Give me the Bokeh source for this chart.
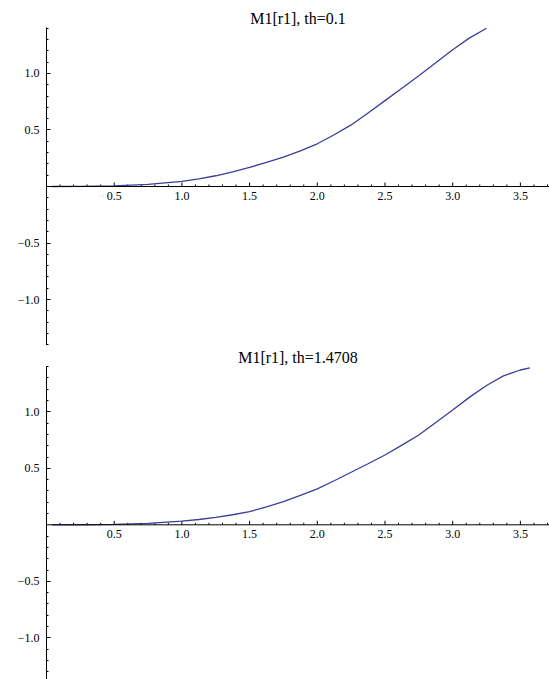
import numpy as np
from bokeh.plotting import figure
from bokeh.layouts import column
from bokeh.models import Range1d, FixedTicker, CustomJSTickFormatter, Span
from bokeh.core.properties import value
from bokeh.embed import file_html
from bokeh.resources import INLINE

# ---- data ----
r_top = [0.04, 0.25, 0.5, 0.75, 1.0, 1.125, 1.25, 1.375, 1.5, 1.625, 1.75, 1.875, 2.0,
         2.125, 2.25, 2.375, 2.5, 2.625, 2.75, 2.875, 3.0, 3.125, 3.25]
m_top = [0.0, 0.001, 0.006, 0.019, 0.046, 0.068, 0.095, 0.13, 0.17, 0.213, 0.26, 0.316, 0.378,
         0.458, 0.545, 0.65, 0.76, 0.87, 0.98, 1.095, 1.21, 1.315, 1.40]

r_bot = [0.04, 0.25, 0.5, 0.75, 1.0, 1.125, 1.25, 1.375, 1.5, 1.625, 1.75, 1.875, 2.0,
         2.125, 2.25, 2.375, 2.5, 2.625, 2.75, 2.875, 3.0, 3.125, 3.25, 3.375, 3.5, 3.57]
m_bot = [0.0, 0.0005, 0.004, 0.013, 0.032, 0.047, 0.066, 0.089, 0.117, 0.158, 0.205, 0.26, 0.318,
         0.39, 0.465, 0.54, 0.618, 0.705, 0.795, 0.905, 1.016, 1.13, 1.233, 1.318, 1.37, 1.389]

titles = ["M1[r1], th=0.1", "M1[r1], th=1.4708"]

x_major = [0.5, 1.0, 1.5, 2.0, 2.5, 3.0, 3.5]
x_major_labels = ["0.5", "1.0", "1.5", "2.0", "2.5", "3.0", "3.5"]
x_minor = [round(0.1 * i, 1) for i in range(1, 38) if (i % 5) != 0]
y_major = [-1.0, -0.5, 0.5, 1.0]
y_minor = [round(0.1 * i, 1) for i in range(-14, 15) if (i % 5) != 0]

LINE_COLOR = "#3d3d99"
FONT = "Liberation Serif"


def make_panel(title, xs, ys, height, border_top, y_lo, y_hi):
    p = figure(width=549, height=height, output_backend="svg", toolbar_location=None,
               x_range=Range1d(0, 3.715), y_range=Range1d(y_lo, y_hi),
               x_axis_location=None, y_axis_location="left",
               min_border_left=46, min_border_right=0, min_border_bottom=0,
               min_border_top=border_top)
    p.outline_line_color = None
    p.grid.visible = False
    p.background_fill_color = "white"
    p.border_fill_color = "white"

    p.title.text = title
    p.title.align = "center"
    p.title.text_font = FONT
    p.title.text_font_style = "normal"
    p.title.text_font_size = "16px"
    p.title.text_color = "black"
    p.title.standoff = 2

    ax = p.yaxis[0]
    ax.ticker = FixedTicker(ticks=y_major, minor_ticks=y_minor)
    ax.formatter = CustomJSTickFormatter(code="return (tick < 0 ? '\u2212' : '') + Math.abs(tick).toFixed(1);")
    ax.major_tick_in = 4
    ax.major_tick_out = 0
    ax.minor_tick_in = 2
    ax.minor_tick_out = 0
    ax.axis_line_color = "black"
    ax.major_tick_line_color = "black"
    ax.minor_tick_line_color = "black"
    ax.major_label_text_font = FONT
    ax.major_label_text_font_size = "12px"
    ax.major_label_text_color = "black"
    ax.major_label_standoff = 7

    # horizontal axis drawn through y = 0
    p.add_layout(Span(location=0, dimension="width", line_color="black", line_width=1))
    p.ray(x=x_major, y=[0] * len(x_major), length=4, length_units="screen",
          angle=np.pi / 2, line_color="black", line_width=1)
    p.ray(x=x_minor, y=[0] * len(x_minor), length=2, length_units="screen",
          angle=np.pi / 2, line_color="black", line_width=1)
    p.text(x=x_major, y=[0] * len(x_major), text=x_major_labels,
           text_font=value(FONT), text_font_size="12px", text_color="black",
           text_align="center", text_baseline="top", y_offset=5)

    p.line(xs, ys, line_color=LINE_COLOR, line_width=1.3)
    return p


p1 = make_panel(titles[0], r_top, m_top, 345, 27, -1.407, 1.407)
p2 = make_panel(titles[1], r_bot, m_bot, 334, 21, -1.369, 1.401)

layout = column(p1, p2, spacing=0)
open("out.html", "w").write(file_html(layout, INLINE))
